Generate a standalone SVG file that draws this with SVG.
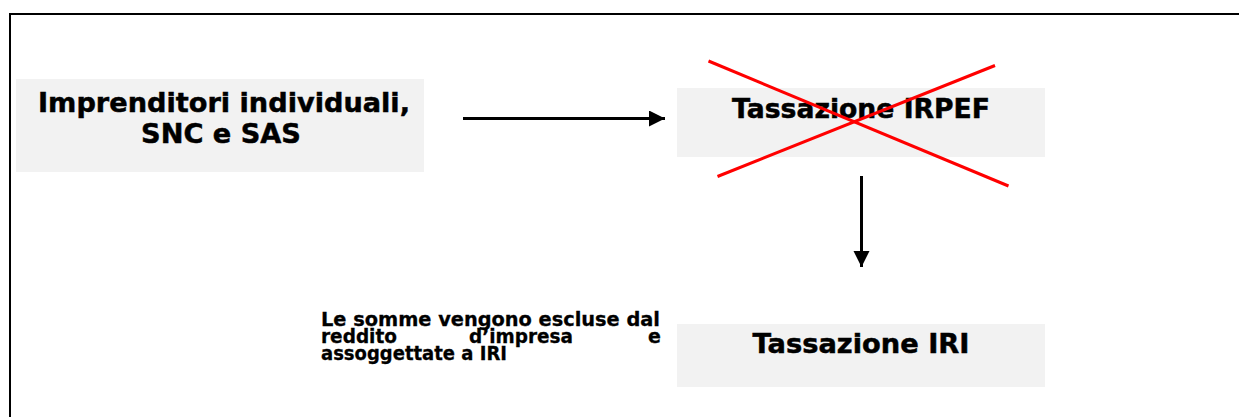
<svg xmlns="http://www.w3.org/2000/svg" width="1239" height="417" viewBox="0 0 1239 417">
<defs>
<style>
.box{fill:#f2f2f2;stroke:none}
.t{font-family:"DejaVu Sans","Liberation Sans",sans-serif;font-weight:bold;fill:#000;stroke:#000;stroke-width:0.5}
.big{font-size:27.2px}
.small{font-size:19px;stroke-width:0.3}
.conn{stroke:#000;stroke-width:3;fill:none}
.cross{stroke:#ff0000;stroke-width:3;fill:none}
</style>
<marker id="ah" markerUnits="userSpaceOnUse" markerWidth="17" markerHeight="17" refX="16" refY="8" orient="auto">
<path d="M0,0 L16,8 L0,16 Z" fill="#000"/>
</marker>
</defs>
<rect width="1239" height="417" fill="#fff"/>
<g id="frame">
<path d="M10,417 V14 H1239" stroke="#000" stroke-width="2" fill="none"/>
</g>
<g id="node-imprenditori">
<rect class="box" x="16" y="79" width="408" height="93"/>
<text class="t big" x="224" y="112" text-anchor="middle" textLength="372" lengthAdjust="spacingAndGlyphs">Imprenditori individuali,</text>
<text class="t big" x="221" y="143" text-anchor="middle">SNC e SAS</text>
</g>
<g id="node-irpef">
<rect class="box" x="677" y="88" width="368" height="69"/>
<text class="t big" x="861" y="118" text-anchor="middle" textLength="258" lengthAdjust="spacingAndGlyphs">Tassazione IRPEF</text>
</g>
<g id="node-iri">
<rect class="box" x="677" y="324" width="368" height="63"/>
<text class="t big" x="861" y="353" text-anchor="middle" textLength="217" lengthAdjust="spacingAndGlyphs">Tassazione IRI</text>
</g>
<g id="note">
<text class="t small" x="321" y="326" textLength="339" lengthAdjust="spacingAndGlyphs">Le somme vengono escluse dal</text>
<text class="t small" x="321" y="343" textLength="76" lengthAdjust="spacingAndGlyphs">reddito</text>
<text class="t small" x="469" y="343" textLength="104" lengthAdjust="spacingAndGlyphs">d’impresa</text>
<text class="t small" x="661" y="343" text-anchor="end">e</text>
<text class="t small" x="321" y="360" textLength="186" lengthAdjust="spacingAndGlyphs">assoggettate a IRI</text>
</g>
<g id="connectors">
<line class="conn" x1="463" y1="118.5" x2="665" y2="118.5" marker-end="url(#ah)"/>
<line class="conn" x1="861.5" y1="176" x2="861.5" y2="267" marker-end="url(#ah)"/>
</g>
<g id="cross">
<line class="cross" x1="708.5" y1="61" x2="1008.5" y2="186"/>
<line class="cross" x1="995" y1="65.5" x2="717.5" y2="176.5"/>
</g>
</svg>
